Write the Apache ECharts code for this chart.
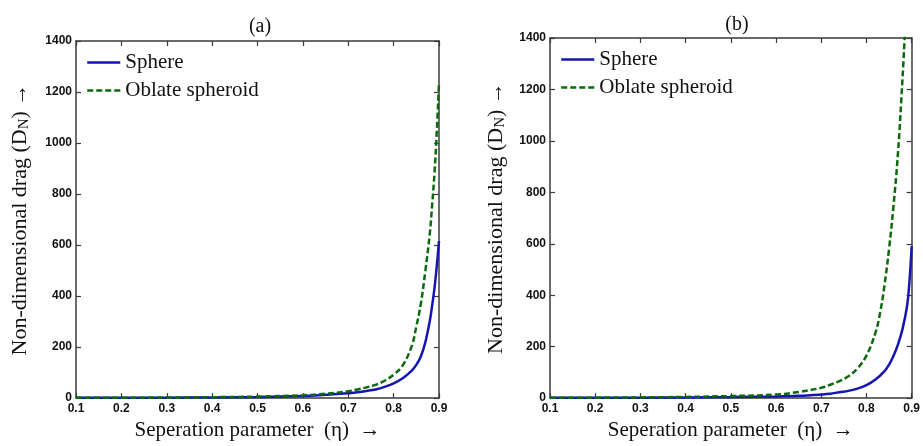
<!DOCTYPE html>
<html>
<head>
<meta charset="utf-8">
<script src="https://cdn.jsdelivr.net/npm/echarts@6/dist/echarts.min.js"></script>
<style>
html,body{margin:0;padding:0;background:#fff;}
#chart{width:923px;height:446px;}
</style>
</head>
<body>
<div id="chart"></div>
<script>
// ---- data ----
const panelTitles = ['(a)', '(b)'];
const xTickMin = 0.1, xTickMax = 0.9, xTickStep = 0.1;
const yTickMin = 0, yTickMax = 1400, yTickStep = 200;

// panel (a)
const etaA = [0.1, 0.2, 0.3, 0.4, 0.5, 0.6, 0.65, 0.7, 0.72, 0.74, 0.76, 0.78, 0.8, 0.82, 0.84, 0.85, 0.86, 0.87, 0.88, 0.885, 0.89, 0.895, 0.9];
const sphereA = [1, 1.3, 1.8, 2.5, 4, 8, 13, 19, 23, 28, 34, 44, 58, 78, 108, 130, 163, 220, 305, 365, 430, 515, 615];
const oblateA = [1.1, 1.5, 2.2, 3.5, 6, 11, 17, 27, 34, 42, 52, 68, 92, 128, 205, 280, 370, 500, 650, 760, 880, 1040, 1235];

// panel (b)
const etaBs = [0.1, 0.2, 0.3, 0.4, 0.5, 0.6, 0.65, 0.7, 0.72, 0.74, 0.76, 0.78, 0.8, 0.82, 0.84, 0.85, 0.86, 0.87, 0.88, 0.89, 0.895, 0.9];
const sphereB = [1, 1.3, 1.8, 2.5, 4, 6.5, 9, 14, 17, 23, 28, 37, 50, 72, 105, 130, 165, 210, 270, 360, 450, 590];
const etaBo = [0.1, 0.2, 0.3, 0.4, 0.5, 0.6, 0.65, 0.7, 0.72, 0.74, 0.76, 0.78, 0.8, 0.82, 0.83, 0.84, 0.85, 0.86, 0.87, 0.88, 0.885];
const oblateB = [1.2, 1.8, 2.8, 4.5, 8, 14, 24, 40, 52, 66, 85, 115, 165, 255, 330, 440, 580, 750, 960, 1250, 1420];

const seriesNames = ['Sphere', 'Oblate spheroid'];
const xName = 'Seperation parameter  (η)  →';

// ---- styling ----
const serif = '"Liberation Serif", "Times New Roman", serif';
const sans = '"Liberation Sans", Arial, sans-serif';
const axisColor = '#3a3a3a';
const blue = '#1515b0';
const green = '#0b6a0b';

const zip = (xs, ys) => xs.map((x, i) => [x, ys[i]]);

function xAxes(grid) {
  const base = {
    type: 'value', gridIndex: grid, min: xTickMin, max: xTickMax, interval: xTickStep,
    splitLine: { show: false },
    axisLine: { show: true, onZero: false, lineStyle: { color: axisColor, width: 1.5 } },
    axisTick: { show: true, inside: true, length: 5, lineStyle: { color: axisColor, width: 1.2 } }
  };
  return [
    Object.assign({}, base, {
      position: 'bottom',
      axisLabel: { show: true, margin: 5, color: '#111', fontFamily: sans, fontWeight: 'bold', fontSize: 12,
        formatter: v => v.toFixed(1) },
      name: xName, nameLocation: 'middle', nameGap: 20,
      nameTextStyle: { fontFamily: serif, fontSize: 21, color: '#111' }
    }),
    Object.assign({}, base, { position: 'top', axisLabel: { show: false } })
  ];
}

function yAxes(grid, gap) {
  const base = {
    type: 'value', gridIndex: grid, min: yTickMin, max: yTickMax, interval: yTickStep,
    splitLine: { show: false },
    axisLine: { show: true, onZero: false, lineStyle: { color: axisColor, width: 1.5 } },
    axisTick: { show: true, inside: true, length: 5, lineStyle: { color: axisColor, width: 1.2 } }
  };
  return [
    Object.assign({}, base, {
      position: 'left',
      axisLabel: { show: true, margin: 4, color: '#111', fontFamily: sans, fontWeight: 'bold', fontSize: 12,
        formatter: v => String(v) },
      name: '{n|Non-dimensional drag (D}{s|N}{n|) →}', nameLocation: 'middle', nameGap: gap, nameRotate: 90,
      nameTextStyle: {
        fontFamily: serif, fontSize: 22, color: '#111',
        rich: {
          n: { fontFamily: serif, fontSize: 22, color: '#111', lineHeight: 24 },
          s: { fontFamily: serif, fontSize: 15, color: '#111', lineHeight: 24, padding: [9, 0, 0, 0] }
        }
      }
    }),
    Object.assign({}, base, { position: 'right', axisLabel: { show: false } })
  ];
}

function lineSeries(name, data, xi, yi, color, dashed) {
  return {
    name: name, type: 'line', xAxisIndex: xi, yAxisIndex: yi, data: data,
    symbol: 'none', showSymbol: false, smooth: 0.4, clip: true,
    lineStyle: { color: color, width: 2.5, type: dashed ? [6, 3] : 'solid' },
    itemStyle: { color: color }
  };
}

function legend(left, top) {
  return {
    data: seriesNames, orient: 'vertical', left: left, top: top, padding: 0,
    itemWidth: 33, itemHeight: 12, itemGap: 7,
    selectedMode: false,
    itemStyle: { opacity: 0 },
    lineStyle: { width: 2.5 },
    textStyle: { fontFamily: serif, fontSize: 21, color: '#111' }
  };
}

const option = {
  animation: false,
  backgroundColor: '#fff',
  title: [
    { text: panelTitles[0], left: 255, top: 12, textAlign: 'center',
      textStyle: { fontFamily: serif, fontSize: 20, fontWeight: 'normal', color: '#111' } },
    { text: panelTitles[1], left: 732, top: 10, textAlign: 'center',
      textStyle: { fontFamily: serif, fontSize: 20, fontWeight: 'normal', color: '#111' } }
  ],
  legend: [legend(86, 52), legend(560, 49)],
  grid: [
    { left: 76, right: 484, top: 41, bottom: 45 },
    { left: 550, right: 9, top: 38, bottom: 45 }
  ],
  xAxis: [].concat(xAxes(0), xAxes(1)),
  yAxis: [].concat(yAxes(0, 44), yAxes(1, 42)),
  series: [
    lineSeries(seriesNames[0], zip(etaA, sphereA), 0, 0, blue, false),
    lineSeries(seriesNames[1], zip(etaA, oblateA), 0, 0, green, true),
    lineSeries(seriesNames[0], zip(etaBs, sphereB), 2, 2, blue, false),
    lineSeries(seriesNames[1], zip(etaBo, oblateB), 2, 2, green, true)
  ]
};

const chart = echarts.init(document.getElementById('chart'), null, { renderer: 'canvas' });
chart.setOption(option);
</script>
</body>
</html>
